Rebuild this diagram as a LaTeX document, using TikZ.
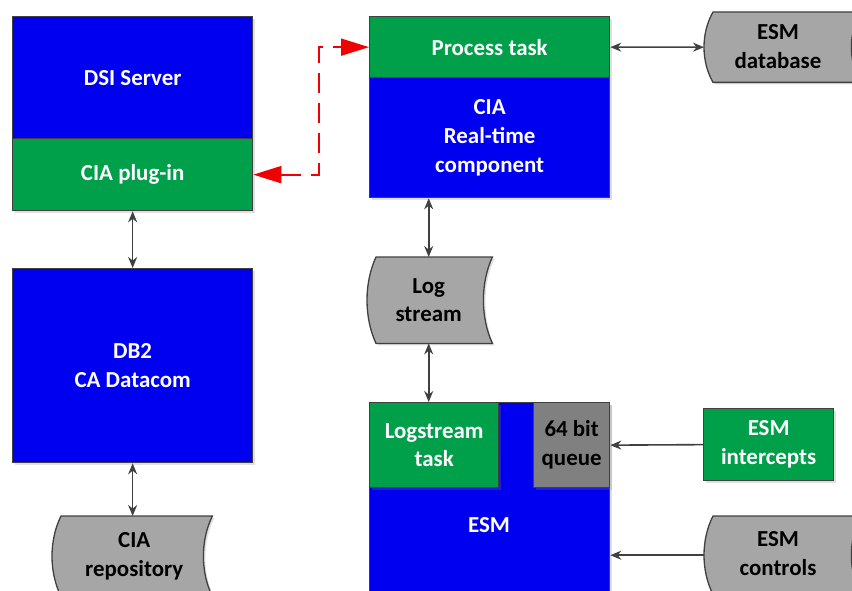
\documentclass[tikz,border=0pt]{standalone}
\usepackage{fontspec}
\setmainfont{Carlito}
\usetikzlibrary{arrows.meta,calc,shadows,backgrounds}
\definecolor{cblue}{RGB}{0,0,240}
\definecolor{cgreen}{RGB}{0,160,75}
\definecolor{cgray}{RGB}{166,166,166}
\definecolor{cdgray}{RGB}{128,128,128}
\definecolor{cedge}{RGB}{64,64,64}
\definecolor{cred}{RGB}{240,0,0}
\newcommand\drawstore[1]{%
  \path[storeline] ([xshift=9bp]#1.north west) -- (#1.north east)
    .. controls ($(#1.north east)!0.3!(#1.south east)+(-12bp,0)$) and ($(#1.north east)!0.7!(#1.south east)+(-12bp,0)$) .. (#1.south east)
    -- ([xshift=9bp]#1.south west)
    .. controls ($(#1.south west)!0.3!(#1.north west)+(-3bp,0)$) and ($(#1.south west)!0.7!(#1.north west)+(-3bp,0)$) .. ([xshift=9bp]#1.north west) -- cycle;}
\begin{document}
\begin{tikzpicture}[x=1bp,y=-1bp,
  every node/.style={font=\fontsize{23}{29}\selectfont\bfseries, align=center, inner sep=0pt},
  shade/.style={drop shadow={shadow xshift=2bp, shadow yshift=-2bp, opacity=0.25}},
  box/.style={draw=cedge, line width=1.3bp, anchor=north west, shade},
  bluebox/.style={box, fill=cblue, text=white},
  greenbox/.style={box, fill=cgreen, text=white},
  queuebox/.style={box, fill=cdgray, text=black},
  storebox/.style={anchor=north west, text=black},
  storeline/.style={draw=cedge, line width=1.3bp, fill=cgray, shade},
  link/.style={draw=cedge, line width=1.6bp, {Stealth[length=11bp,width=9bp]}-{Stealth[length=11bp,width=9bp]}},
  feed/.style={draw=cedge, line width=1.6bp, -{Stealth[length=11bp,width=9bp]}},
  reddash/.style={draw=cred, line width=1.8bp, dash pattern=on 20bp off 10bp,
    {Triangle[length=28bp,width=17bp]}-{Triangle[length=28bp,width=17bp]}}
]
\useasboundingbox (0,0) rectangle (852,591);

% left column
\node[bluebox, minimum width=240bp, minimum height=122bp] (dsi) at (12,16) {DSI Server};
\node[greenbox, minimum width=240bp, minimum height=72bp] (plug) at (12,138) {CIA plug-in};
\node[bluebox, minimum width=240bp, minimum height=194bp] (db2) at (12,268) {DB2\\CA Datacom};
\node[storebox, minimum width=160bp, minimum height=80bp] (repo) at (52,516) {};
\begin{scope}[on background layer]\drawstore{repo}\end{scope}
\node (repot) at ([xshift=2bp]repo.center) {CIA\\repository};

% middle column
\node[greenbox, minimum width=240bp, minimum height=61bp] (ptask) at (369,16) {Process task};
\node[bluebox, minimum width=240bp, minimum height=120bp] (rt) at (369,77) {CIA\\Real-time\\component};
\node[storebox, minimum width=125bp, minimum height=86bp] (ls) at (367,257) {};
\begin{scope}[on background layer]\drawstore{ls}\end{scope}
\node (lst) at ([xshift=-1bp]ls.center) {Log\\stream};
\node[bluebox, minimum width=240bp, minimum height=200bp] (esm) at (369,402) {};
\node[text=white] (esmt) at (489,525) {ESM};
\node[greenbox, minimum width=129bp, minimum height=85bp] (lstask) at (369,402) {Logstream\\task};
\node[queuebox, minimum width=76bp, minimum height=85bp] (queue) at (533,402) {64 bit\\queue};

% right column
\node[storebox, minimum width=156bp, minimum height=70bp] (db) at (704,12) {};
\begin{scope}[on background layer]\drawstore{db}\end{scope}
\node (dbt) at (778,47) {ESM\\database};
\node[greenbox, minimum width=130bp, minimum height=72bp] (int) at (703,408) {ESM\\intercepts};
\node[storebox, minimum width=156bp, minimum height=78bp] (ctrl) at (704,516) {};
\begin{scope}[on background layer]\drawstore{ctrl}\end{scope}
\node (ctrlt) at (778,554) {ESM\\controls};

% connectors
\draw[link] (plug.south) -- (db2.north);
\draw[link] (db2.south) -- (repo.north -| db2.south);
\draw[link] (ptask.east) -- (db.west);
\draw[link] ([xshift=-1bp]ls.north) -- ([xshift=-1bp]ls.north |- rt.south);
\draw[link] ([xshift=-1bp]ls.south) -- ([xshift=-1bp]ls.south |- esm.north);
\draw[feed] (int.west) -- (queue.east);
\draw[feed] (ctrl.west) -- (ctrl.west -| esm.east);
\draw[reddash] (plug.east) -- ++(66bp,0) |- (ptask.west);
\end{tikzpicture}
\end{document}
